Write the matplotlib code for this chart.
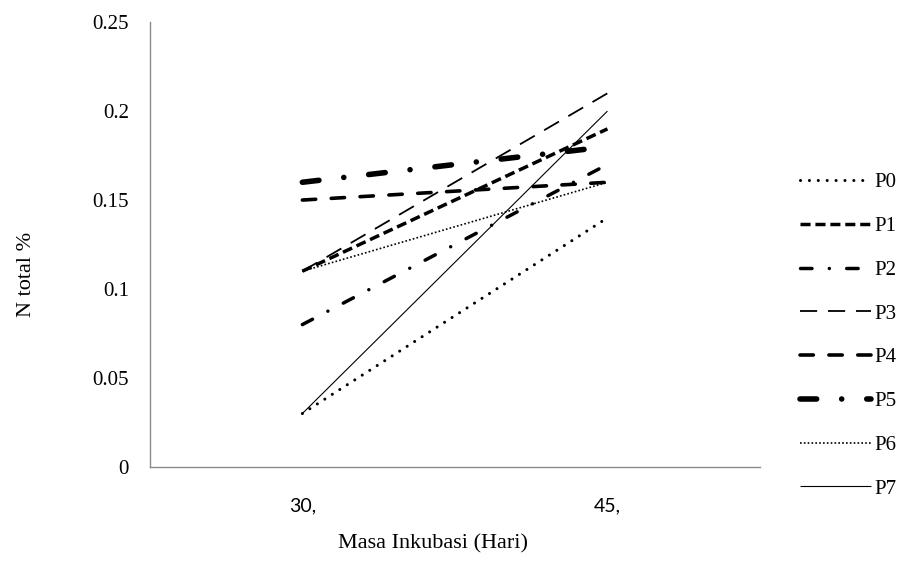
import matplotlib
matplotlib.use("Agg")
import matplotlib.pyplot as plt

## data

days = ['30,', '45,']
series_names = ['P0', 'P1', 'P2', 'P3', 'P4', 'P5', 'P6', 'P7']
p0 = [0.03, 0.14]
p1 = [0.11, 0.19]
p2 = [0.08, 0.17]
p3 = [0.11, 0.21]
p4 = [0.15, 0.16]
p5 = [0.16, 0.18]
p6 = [0.11, 0.16]
p7 = [0.03, 0.20]
yticks = [0, 0.05, 0.1, 0.15, 0.2, 0.25]
ytick_labels = ['0', '0.05', '0.1', '0.15', '0.2', '0.25']

# line styles, dash patterns are in units of linewidth
styles = [
    dict(lw=2.2, ls=(0, (0.01, 2.9)), capstyle='round'),
    dict(lw=2.5, ls=(0, (2.9, 1.4)), capstyle='butt'),
    dict(lw=2.5, ls=(0, (3.3, 5.0, 0.01, 5.0)), capstyle='round'),
    dict(lw=1.3, ls=(0, (9.5, 6.0)), capstyle='butt'),
    dict(lw=2.6, ls=(0, (3.7, 4.3)), capstyle='round'),
    dict(lw=4.0, ls=(0, (3.0, 4.5, 0.01, 4.5)), capstyle='round'),
    dict(lw=1.2, ls=(0, (1.0, 1.3)), capstyle='butt'),
    dict(lw=0.8, ls='-', capstyle='butt'),
]

serif = 'Liberation Serif'

fig = plt.figure(figsize=(9.08, 5.68), dpi=100)
ax = fig.add_axes([0.165, 0.178, 0.672, 0.783])

data = [p0, p1, p2, p3, p4, p5, p6, p7]
x = list(range(len(days)))
for name, vals, st in zip(series_names, data, styles):
    ax.plot(x, vals, color='black', linewidth=st['lw'], linestyle=st['ls'],
            dash_capstyle=st['capstyle'], solid_capstyle='butt', label=name)

ax.set_xlim(-0.5, 1.5)
ax.set_ylim(0, 0.25)
ax.set_xticks(x)
ax.set_xticklabels(days, fontfamily='Lato', fontsize=14)
ax.set_yticks(yticks)
ax.set_yticklabels(ytick_labels, fontfamily=serif, fontsize=15)
ax.tick_params(axis='x', length=0, pad=22)
ax.tick_params(axis='y', length=0, pad=15)

for s in ['top', 'right']:
    ax.spines[s].set_visible(False)
for s in ['left', 'bottom']:
    ax.spines[s].set_color('#8c8c8c')
    ax.spines[s].set_linewidth(1.0)

fig.text(0.477, 0.042, 'Masa Inkubasi (Hari)', ha='center', va='center',
         fontfamily=serif, fontsize=16)
fig.text(0.029, 0.516, 'N total %', ha='center', va='center', rotation='vertical',
         fontfamily=serif, fontsize=16)

fig.legend(loc='center left', bbox_to_anchor=(0.872, 0.409), frameon=False,
           prop={'family': serif, 'size': 15}, handlelength=3.4,
           handletextpad=0.15, labelspacing=1.16, borderaxespad=0)

fig.savefig('out.png', dpi=100)
